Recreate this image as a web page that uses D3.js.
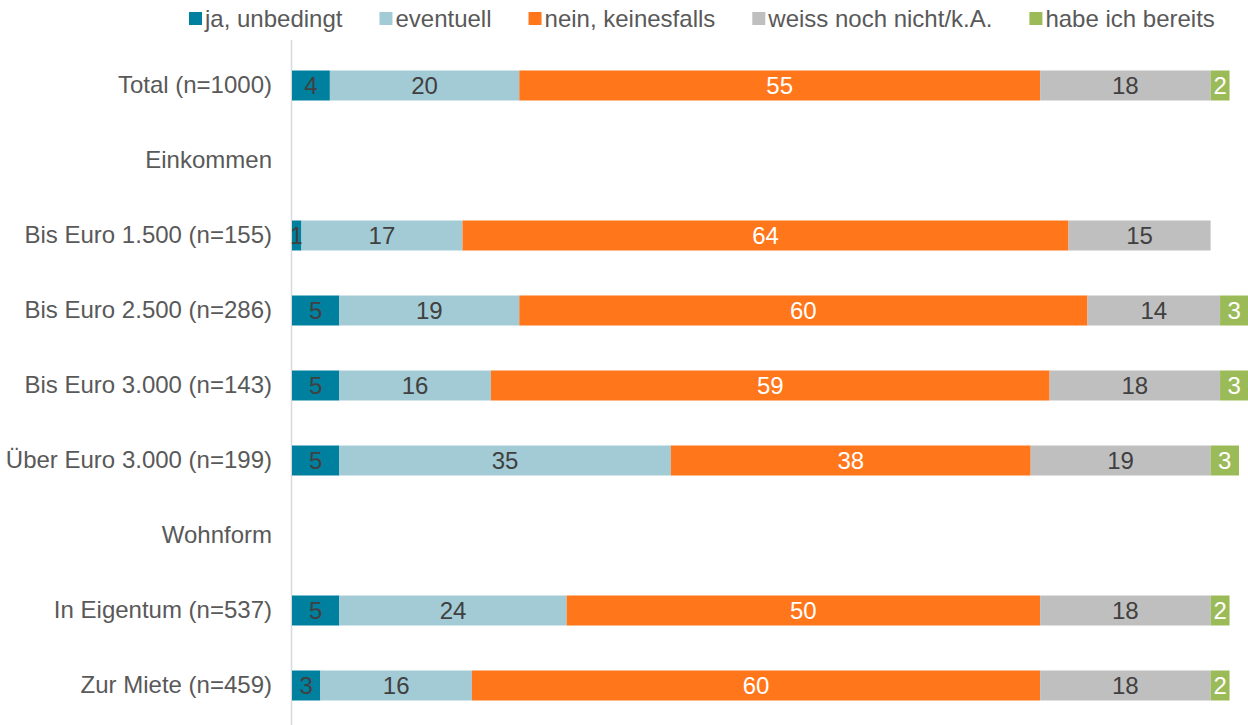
<!DOCTYPE html>
<html>
<head>
<meta charset="utf-8">
<script src="https://cdn.jsdelivr.net/npm/d3@7"></script>
<style>
  body { margin: 0; background: #fff; }
  svg { font-family: "Liberation Sans", Arial, sans-serif; }
</style>
</head>
<body>
<script>
var categories = ['Total (n=1000)', 'Einkommen', 'Bis Euro 1.500 (n=155)', 'Bis Euro 2.500 (n=286)',
  'Bis Euro 3.000 (n=143)', 'Über Euro 3.000 (n=199)', 'Wohnform', 'In Eigentum (n=537)', 'Zur Miete (n=459)'];
var seriesNames = ['ja, unbedingt', 'eventuell', 'nein, keinesfalls', 'weiss noch nicht/k.A.', 'habe ich bereits'];
var jaUnbedingt = [4, null, 1, 5, 5, 5, null, 5, 3];
var eventuell   = [20, null, 17, 19, 16, 35, null, 24, 16];
var nein        = [55, null, 64, 60, 59, 38, null, 50, 60];
var weissNicht  = [18, null, 15, 14, 18, 19, null, 18, 18];
var habeBereits = [2, null, null, 3, 3, 3, null, 2, 2];
var colors = ['#00809f', '#a3cbd5', '#ff761b', '#bfbfbf', '#9bbb59'];
var labelColors = ['#404040', '#404040', '#ffffff', '#404040', '#ffffff'];

var W = 1248, H = 725;
var fs = 24;

var svg = d3.select('body').append('svg')
  .attr('width', W).attr('height', H);

var x = d3.scaleLinear().domain([0, 100]).range([292, 292 + 947]);
var y = d3.scaleBand().domain(categories).range([48, 723]).paddingInner(0.6).paddingOuter(0.3);

var series = [jaUnbedingt, eventuell, nein, weissNicht, habeBereits];

// axis line
svg.append('line')
  .attr('x1', x(0) - 0.5).attr('x2', x(0) - 0.5)
  .attr('y1', 40).attr('y2', H)
  .attr('stroke', '#d9d9d9').attr('stroke-width', 1.5);

// category labels
var yAxis = d3.axisLeft(y).tickSize(0).tickPadding(20);
var gy = svg.append('g').attr('transform', 'translate(' + x(0) + ',0)').call(yAxis);
gy.select('.domain').remove();
gy.selectAll('text')
  .attr('font-size', fs)
  .attr('font-family', '"Liberation Sans", Arial, sans-serif')
  .attr('fill', '#595959');

// stacked bars
categories.forEach(function(cat, i) {
  var acc = 0;
  series.forEach(function(s, j) {
    var v = s[i];
    if (v == null) return;
    var x0 = x(acc), x1 = x(acc + v);
    acc += v;
    svg.append('rect')
      .attr('x', x0).attr('y', y(cat))
      .attr('width', x1 - x0).attr('height', y.bandwidth())
      .attr('fill', colors[j]);
    svg.append('text')
      .attr('x', (x0 + x1) / 2)
      .attr('y', y(cat) + y.bandwidth() / 2)
      .attr('dy', '0.36em')
      .attr('text-anchor', 'middle')
      .attr('font-size', fs)
      .attr('fill', labelColors[j])
      .text(v);
  });
});

// legend
var legend = svg.append('g').attr('transform', 'translate(189, 0)');
var lx = 0;
seriesNames.forEach(function(name, j) {
  var g = legend.append('g').attr('transform', 'translate(' + lx + ',0)');
  g.append('rect').attr('x', 0).attr('y', 12).attr('width', 13).attr('height', 13)
    .attr('fill', colors[j]);
  var t = g.append('text').attr('x', 16).attr('y', 27)
    .attr('font-size', fs).attr('fill', '#595959').text(name);
  lx += 16 + t.node().getComputedTextLength() + 37;
});
</script>
</body>
</html>
